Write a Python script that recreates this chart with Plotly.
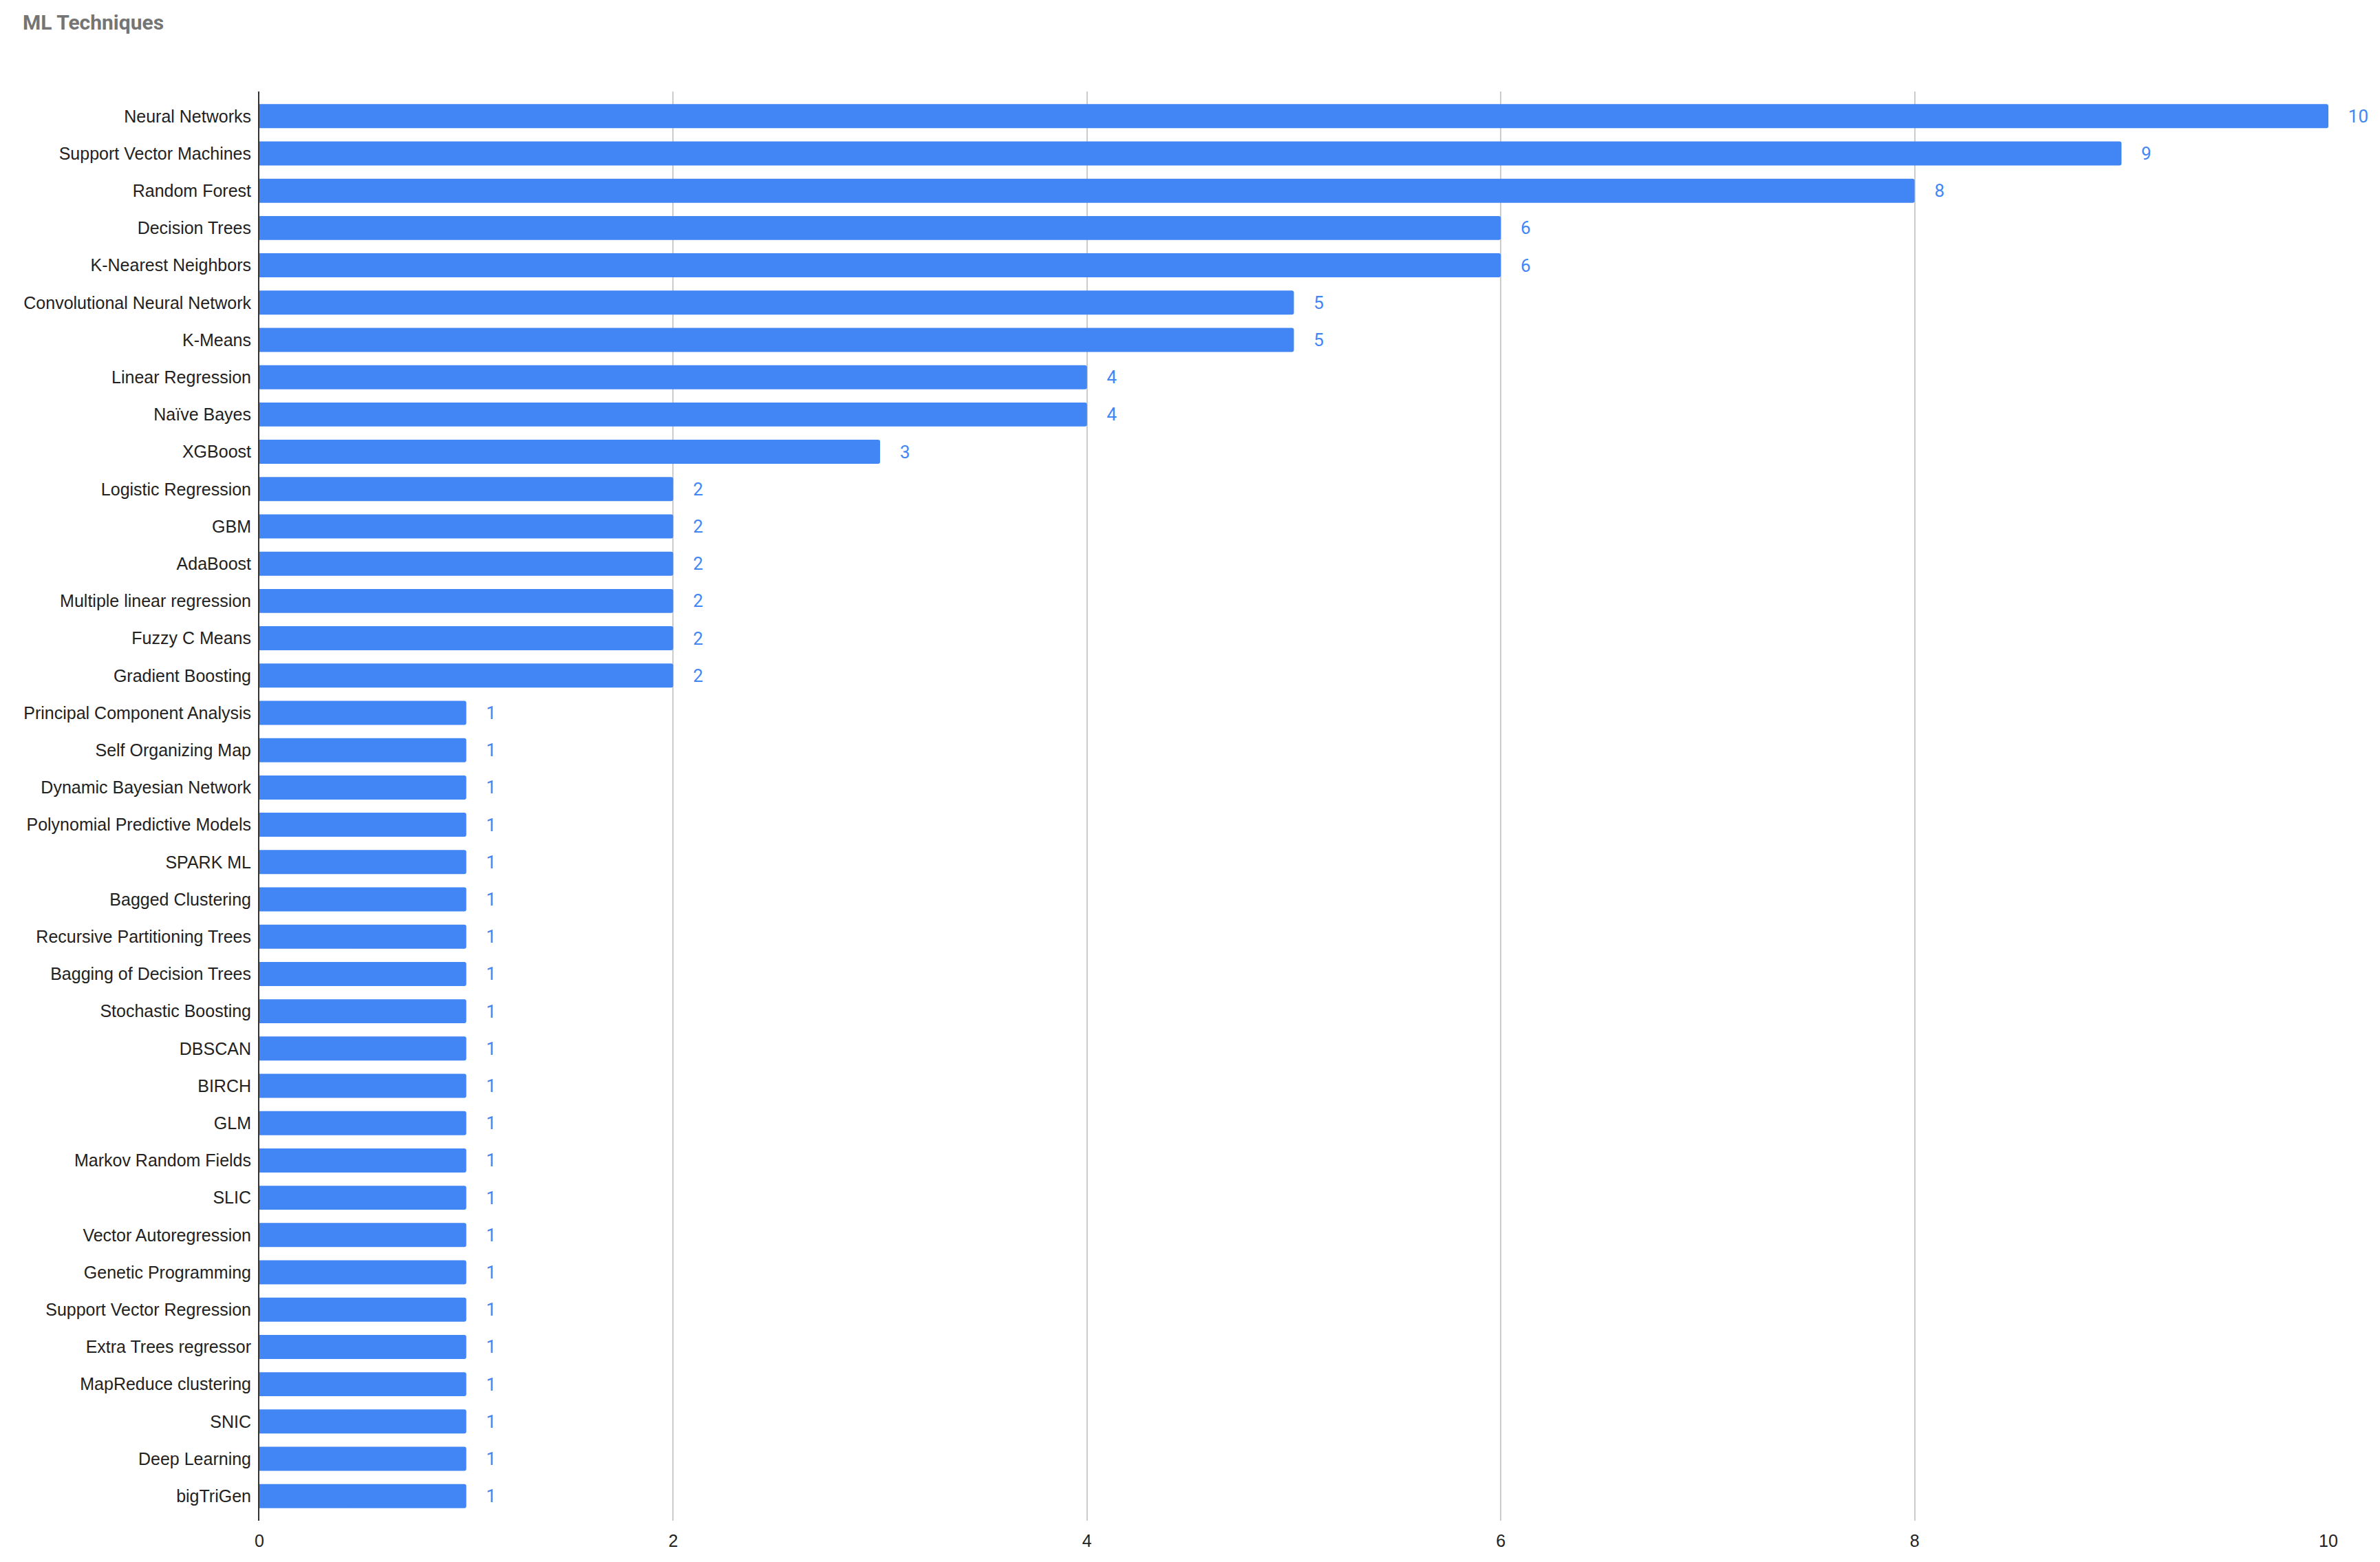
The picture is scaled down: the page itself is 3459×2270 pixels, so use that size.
"""ML Techniques horizontal bar chart."""

import plotly.graph_objects as go

# categories, top to bottom
TECHNIQUES = ['Neural Networks', 'Support Vector Machines', 'Random Forest', 'Decision Trees',
              'K-Nearest Neighbors', 'Convolutional Neural Network', 'K-Means',
              'Linear Regression', 'Naïve Bayes', 'XGBoost', 'Logistic Regression', 'GBM',
              'AdaBoost', 'Multiple linear regression', 'Fuzzy C Means', 'Gradient Boosting',
              'Principal Component Analysis', 'Self Organizing Map', 'Dynamic Bayesian Network',
              'Polynomial Predictive Models', 'SPARK ML', 'Bagged Clustering',
              'Recursive Partitioning Trees', 'Bagging of Decision Trees', 'Stochastic Boosting',
              'DBSCAN', 'BIRCH', 'GLM', 'Markov Random Fields', 'SLIC', 'Vector Autoregression',
              'Genetic Programming', 'Support Vector Regression', 'Extra Trees regressor',
              'MapReduce clustering', 'SNIC', 'Deep Learning', 'bigTriGen']
COUNTS = [10, 9, 8, 6, 6, 5, 5, 4, 4, 3, 2, 2, 2, 2, 2, 2,
          1, 1, 1, 1, 1, 1, 1, 1, 1, 1, 1, 1, 1, 1, 1, 1, 1, 1, 1, 1, 1, 1]
X_TICKS = [0, 2, 4, 6, 8, 10]

BLUE = '#4285F4'

# the page body adds an 8px margin around the figure
W, H = 3443, 2254

fig = go.Figure(go.Bar(
    x=COUNTS,
    y=TECHNIQUES,
    orientation='h',
    marker=dict(color=BLUE, cornerradius=3, line=dict(width=0)),
    text=COUNTS,
    texttemplate='    %{x}',
    textposition='outside',
    constraintext='none',
    textfont=dict(family='Roboto', size=26, color=BLUE),
    cliponaxis=False,
    hoverinfo='x+y',
))

n = len(TECHNIQUES)
pad = 0.16
fig.update_layout(
    width=W, height=H,
    paper_bgcolor='white', plot_bgcolor='white',
    margin=dict(l=369, r=67, t=125, b=52),
    bargap=0.355,
    showlegend=False,
    title=dict(text='ML Techniques', x=25 / W, xanchor='left', y=1 - 24 / H,
               yanchor='middle',
               font=dict(family='Roboto', size=30, color='#757575', weight='bold')),
    font=dict(family='Liberation Sans, Arial', size=25, color='#222222'),
)
fig.update_xaxes(range=[0, 10], tickvals=X_TICKS, showgrid=True, gridcolor='#cccccc',
                 gridwidth=2, zeroline=False, showline=False, ticks='', automargin=False,
                 ticklabelstandoff=12, tickfont=dict(size=25, color='#222222'))
fig.update_yaxes(autorange=False, range=[n - 0.5 + pad, -0.5 - pad], automargin=False,
                 showline=True, linecolor='#333333', linewidth=2,
                 showgrid=False, ticks='', ticklabelstandoff=5,
                 tickfont=dict(size=25, color='#222222'))

fig.write_html('out.html')
